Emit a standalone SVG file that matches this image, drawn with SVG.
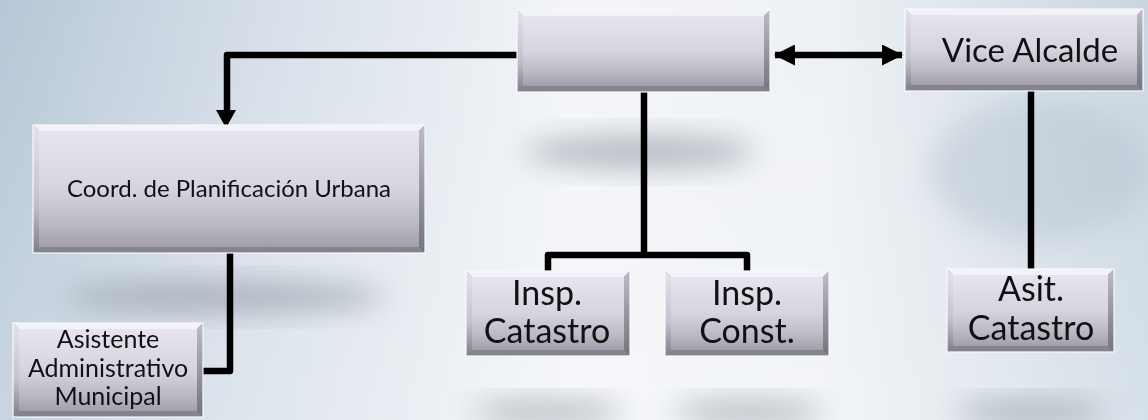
<svg xmlns="http://www.w3.org/2000/svg" width="1148" height="420" viewBox="0 0 1148 420">
<defs>
<linearGradient id="bg" x1="0" y1="0" x2="1" y2="0">
<stop offset="0" stop-color="#b7c7d7"/>
<stop offset="0.22" stop-color="#d5dee8"/>
<stop offset="0.5" stop-color="#f3f5f8"/>
<stop offset="0.72" stop-color="#eef1f5"/>
<stop offset="1" stop-color="#c9d6e1"/>
</linearGradient>
<linearGradient id="bgv" x1="0" y1="0" x2="0" y2="1">
<stop offset="0" stop-color="#ffffff" stop-opacity="0"/>
<stop offset="1" stop-color="#ffffff" stop-opacity="0.25"/>
</linearGradient>
<linearGradient id="face" x1="0" y1="0" x2="0" y2="1">
<stop offset="0" stop-color="#e6e5ef"/>
<stop offset="0.5" stop-color="#d6d4df"/>
<stop offset="0.8" stop-color="#bbb9c4"/>
<stop offset="1" stop-color="#a19fab"/>
</linearGradient>
<linearGradient id="leftb" x1="0" y1="0" x2="0" y2="1">
<stop offset="0" stop-color="#e4e3ec"/>
<stop offset="0.6" stop-color="#c4c2cc"/>
<stop offset="1" stop-color="#7f7d87"/>
</linearGradient>
<linearGradient id="rightb" x1="0" y1="0" x2="0" y2="1">
<stop offset="0" stop-color="#bdbbc5"/>
<stop offset="1" stop-color="#74727c"/>
</linearGradient>
<filter id="blur" x="-50%" y="-50%" width="200%" height="200%">
<feGaussianBlur stdDeviation="14"/>
</filter>
<marker id="ah" viewBox="0 0 20 20" refX="19" refY="10" markerWidth="21" markerHeight="21" markerUnits="userSpaceOnUse" orient="auto-start-reverse">
<path d="M0,0 L20,10 L0,20 Z" fill="#000"/>
</marker>
</defs>
<style>
.t{font-family:Lato,"Open Sans","Liberation Sans",sans-serif;fill:#111;text-anchor:middle}
.face{fill:url(#face)}
.top{fill:#f3f2f8}
.lb{fill:url(#leftb)}
.rb{fill:url(#rightb)}
.bb{fill:#85838d}
.ol{fill:none;stroke:#f7f8fb;stroke-width:1.2}
.c{fill:none;stroke:#000;stroke-width:6.5;stroke-linejoin:round}
.sh{fill:#8f96a0;filter:url(#blur)}
</style>

<rect width="1148" height="420" fill="url(#bg)"/>
<rect width="1148" height="420" fill="url(#bgv)"/>

<g opacity="0.6">
<ellipse class="sh" cx="640" cy="152" rx="115" ry="17"/>
<ellipse class="sh" cx="225" cy="297" rx="160" ry="16"/>
<ellipse class="sh" cx="548" cy="412" rx="75" ry="12"/>
<ellipse class="sh" cx="748" cy="412" rx="75" ry="12"/>
<ellipse class="sh" cx="1030" cy="412" rx="75" ry="12"/>
<ellipse fill="#a9b8c6" filter="url(#blur)" cx="1040" cy="170" rx="110" ry="70" opacity="0.6"/>
</g>

<g id="connectors">
<path class="c" d="M517,55 H227 V112"/>
<path d="M216,110 L236,110 L226,128 Z" fill="#000"/>
<path class="c" d="M775,55 H902" marker-start="url(#ah)" marker-end="url(#ah)"/>
<path class="c" d="M644,92 V255 M548,271 V255 H747 V271"/>
<path class="c" d="M1031,91 V269"/>
<path class="c" d="M230,253 V371 H203"/>
</g>

<g id="node-top">
<rect x="517" y="10" width="253" height="82" class="bb"/>
<polygon points="517,10 770,10 764,16 523,16" class="top"/>
<polygon points="517,10 523,16 523,86 517,92" class="lb"/>
<polygon points="770,10 764,16 764,86 770,92" class="rb"/>
<rect x="523" y="16" width="241" height="70" class="face"/>
<rect x="517" y="10" width="253" height="82" class="ol"/>
</g>

<g id="node-vice">
<rect x="905" y="9" width="238" height="82" class="bb"/>
<polygon points="905,9 1143,9 1137,15 911,15" class="top"/>
<polygon points="905,9 911,15 911,85 905,91" class="lb"/>
<polygon points="1143,9 1137,15 1137,85 1143,91" class="rb"/>
<rect x="911" y="15" width="226" height="70" class="face"/>
<rect x="905" y="9" width="238" height="82" class="ol"/>
<text class="t" x="1030" y="62" font-size="33">Vice Alcalde</text>
</g>

<g id="node-coord">
<rect x="33" y="125" width="392" height="128" class="bb"/>
<polygon points="33,125 425,125 419,131 39,131" class="top"/>
<polygon points="33,125 39,131 39,247 33,253" class="lb"/>
<polygon points="425,125 419,131 419,247 425,253" class="rb"/>
<rect x="39" y="131" width="380" height="116" class="face"/>
<rect x="33" y="125" width="392" height="128" class="ol"/>
<text class="t" x="229" y="197" font-size="24">Coord. de Planificación Urbana</text>
</g>

<g id="node-asistente">
<rect x="13" y="323" width="190" height="94" class="bb"/>
<polygon points="13,323 203,323 197,329 19,329" class="top"/>
<polygon points="13,323 19,329 19,411 13,417" class="lb"/>
<polygon points="203,323 197,329 197,411 203,417" class="rb"/>
<rect x="19" y="329" width="178" height="82" class="face"/>
<rect x="13" y="323" width="190" height="94" class="ol"/>
<text class="t" x="108" y="348" font-size="25">Asistente</text>
<text class="t" x="108" y="377" font-size="25">Administrativo</text>
<text class="t" x="108" y="405" font-size="25">Municipal</text>
</g>

<g id="node-insp-catastro">
<rect x="466" y="271" width="164" height="85" class="bb"/>
<polygon points="466,271 630,271 624,277 472,277" class="top"/>
<polygon points="466,271 472,277 472,350 466,356" class="lb"/>
<polygon points="630,271 624,277 624,350 630,356" class="rb"/>
<rect x="472" y="277" width="152" height="73" class="face"/>
<rect x="466" y="271" width="164" height="85" class="ol"/>
<text class="t" x="547" y="305" font-size="34">Insp.</text>
<text class="t" x="547" y="343" font-size="34">Catastro</text>
</g>

<g id="node-insp-const">
<rect x="665" y="271" width="164" height="85" class="bb"/>
<polygon points="665,271 829,271 823,277 671,277" class="top"/>
<polygon points="665,271 671,277 671,350 665,356" class="lb"/>
<polygon points="829,271 823,277 823,350 829,356" class="rb"/>
<rect x="671" y="277" width="152" height="73" class="face"/>
<rect x="665" y="271" width="164" height="85" class="ol"/>
<text class="t" x="747" y="305" font-size="34">Insp.</text>
<text class="t" x="747" y="343" font-size="34">Const.</text>
</g>

<g id="node-asit">
<rect x="947" y="269" width="167" height="83" class="bb"/>
<polygon points="947,269 1114,269 1108,275 953,275" class="top"/>
<polygon points="947,269 953,275 953,346 947,352" class="lb"/>
<polygon points="1114,269 1108,275 1108,346 1114,352" class="rb"/>
<rect x="953" y="275" width="155" height="71" class="face"/>
<rect x="947" y="269" width="167" height="83" class="ol"/>
<text class="t" x="1031" y="301" font-size="34">Asit.</text>
<text class="t" x="1031" y="340" font-size="34">Catastro</text>
</g>
</svg>
